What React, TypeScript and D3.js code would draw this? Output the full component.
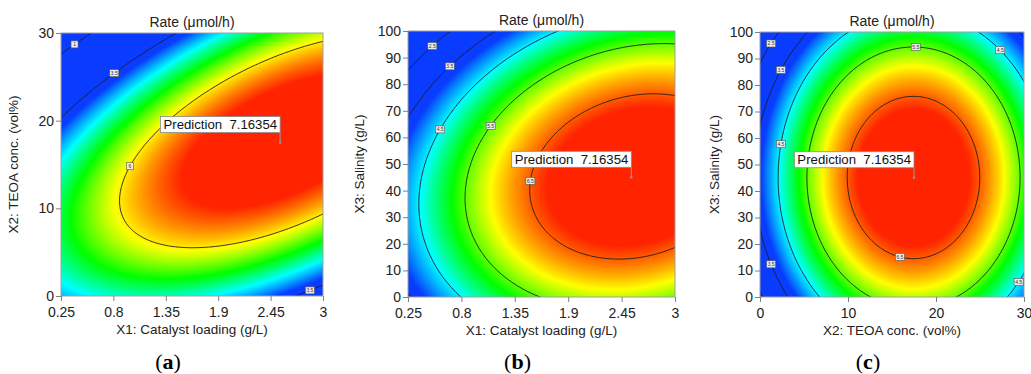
import React, { useEffect, useRef } from 'react';
import * as d3 from 'd3';

// factors of the design
const factorTitles = ['X1: Catalyst loading (g/L)', 'X2: TEOA conc. (vol%)', 'X3: Salinity (g/L)'];
const factorLow = [0.25, 0, 0];
const factorHigh = [3, 30, 100];
const factorTicks = [
  [0.25, 0.8, 1.35, 1.9, 2.45, 3],
  [0, 10, 20, 30],
  [0, 10, 20, 30, 40, 50, 60, 70, 80, 90, 100],
];

// quadratic model, coded units (-1..1): b0, A, B, C, AB, AC, BC, A2, B2, C2
const modelCoefs = [6.71, 1.188, -0.39, -0.617, 1.79, 0.427, 0, -1.02, -2.5, -1.68];

// flag point (the factor not on the axes is held at this value)
const predictionPoint = [2.55, 17.5, 45];
const predictionValue = '7.16354';

// panels (a), (b), (c)
const panelNames = ['a', 'b', 'c'];
const panelXFactor = [0, 0, 1];
const panelYFactor = [1, 2, 2];

const contourLevelsA = [1, 3.5, 6];
const contourLevelsB = [2.5, 3.5, 4.5, 5.5, 6.5];
const contourLevelsC = [2.5, 3.5, 4.5, 5.5, 6.5];

// rough spots of the little contour labels, data units
const labelSpotsA = [[0.34, 29.6], [0.8, 25.4], [0.95, 14.9], [2.85, 0.8]];
const labelSpotsB = [[0.49, 95], [0.67, 87.2], [0.56, 63.6], [1.08, 64.9], [1.5, 44]];
const labelSpotsC = [[1.1, 96], [2.16, 86], [2.24, 57.4], [17.6, 94.1], [27.3, 93.4], [16.1, 17.2], [1.3, 12.3], [29.1, 6.4]];

// colour ramp of the surface
const rampValues = [3.8, 4.55, 5.25, 5.95, 6.7];
const rampColors = ['#0a3cff', '#00ffff', '#00ff00', '#ffff00', '#ff2200'];

const sans = 'Arial, "Liberation Sans", Helvetica, sans-serif';

function rate(p: number[]) {
  const A = (p[0] - 1.625) / 1.375, B = (p[1] - 15) / 15, C = (p[2] - 50) / 50;
  const [b0, bA, bB, bC, bAB, bAC, bBC, bAA, bBB, bCC] = modelCoefs;
  return b0 + bA * A + bB * B + bC * C + bAB * A * B + bAC * A * C + bBC * B * C
    + bAA * A * A + bBB * B * B + bCC * C * C;
}

export default function App() {
  const ref = useRef<SVGSVGElement>(null);

  useEffect(() => {
    const svg = d3.select(ref.current);
    svg.selectAll('*').remove();

    // plot boxes in px
    const left = [61, 408, 760], right = [323, 675, 1024];
    const top = [33, 31, 32], bottom = [296, 297, 297];
    const yTitleX = [18, 364, 719];
    const levels = [contourLevelsA, contourLevelsB, contourLevelsC];
    const spots = [labelSpotsA, labelSpotsB, labelSpotsC];

    const color = d3.scaleLinear<string>().domain(rampValues).range(rampColors).clamp(true);
    const step = 0.03;
    const fillSteps = d3.range(rampValues[0], rampValues[rampValues.length - 1] + 0.001, step);

    panelNames.forEach((name, k) => {
      const xf = panelXFactor[k], yf = panelYFactor[k];
      const w = right[k] - left[k], h = bottom[k] - top[k];
      const x = d3.scaleLinear().domain([factorLow[xf], factorHigh[xf]]).range([0, w]);
      const y = d3.scaleLinear().domain([factorLow[yf], factorHigh[yf]]).range([h, 0]);

      const g = svg.append('g').attr('transform', `translate(${left[k]},${top[k]})`);

      // sample the model on a grid, a couple of cells wider than the plot
      const nx = 150, ny = 150, pad = 2;
      const sx = w / nx, sy = h / ny;
      const gx = nx + 2 * pad, gy = ny + 2 * pad;
      const values: number[] = new Array(gx * gy);
      for (let j = 0; j < gy; j++) {
        for (let i = 0; i < gx; i++) {
          const pt = predictionPoint.slice();
          pt[xf] = x.invert((i - pad + 0.5) * sx);
          pt[yf] = y.invert((j - pad + 0.5) * sy);
          values[j * gx + i] = rate(pt);
        }
      }
      const proj = d3.geoTransform({
        point(px: number, py: number) { this.stream.point((px - pad) * sx, (py - pad) * sy); },
      });
      const path = d3.geoPath(proj);

      const clipId = `clip-${name}`;
      g.append('clipPath').attr('id', clipId)
        .append('rect').attr('width', w).attr('height', h);
      const body = g.append('g').attr('clip-path', `url(#${clipId})`);

      body.append('rect').attr('width', w).attr('height', h).attr('fill', color(rampValues[0]));
      const bands = d3.contours().size([gx, gy]).thresholds(fillSteps)(values);
      body.selectAll('path.band').data(bands).enter().append('path')
        .attr('class', 'band')
        .attr('d', path as any)
        .attr('fill', d => color(d.value + step / 2))
        .attr('stroke', d => color(d.value + step / 2))
        .attr('stroke-width', 0.4);

      const lines = d3.contours().size([gx, gy]).thresholds(levels[k])(values);
      body.selectAll('path.line').data(lines).enter().append('path')
        .attr('class', 'line')
        .attr('d', path as any)
        .attr('fill', 'none')
        .attr('stroke', '#1c1c1c')
        .attr('stroke-width', 0.9);

      // frame
      g.append('rect').attr('width', w).attr('height', h)
        .attr('fill', 'none').attr('stroke', '#a0a0a0').attr('stroke-width', 1);

      // contour labels, snapped onto their line
      const fmt = d3.format('~g');
      spots[k].forEach(s => {
        const tx = x(s[0]), ty = y(s[1]);
        const pt = predictionPoint.slice();
        pt[xf] = s[0]; pt[yf] = s[1];
        const v = rate(pt);
        const li = d3.minIndex(levels[k], l => Math.abs(l - v));
        let best: [number, number] = [tx, ty], bd = Infinity;
        lines[li].coordinates.forEach(poly => poly.forEach(ring => ring.forEach(c => {
          const px = (c[0] - pad) * sx, py = (c[1] - pad) * sy;
          if (px < 3 || px > w - 3 || py < 3 || py > h - 3) return;
          const dd = (px - tx) ** 2 + (py - ty) ** 2;
          if (dd < bd) { bd = dd; best = [px, py]; }
        })));
        const txt = fmt(levels[k][li]);
        const bw = txt.length > 1 ? 9 : 7;
        const lg = g.append('g').attr('transform', `translate(${best[0]},${best[1]})`);
        lg.append('rect').attr('x', -bw / 2).attr('y', -3.5).attr('width', bw).attr('height', 7)
          .attr('fill', '#ececec').attr('stroke', '#555').attr('stroke-width', 0.6);
        lg.append('text').attr('text-anchor', 'middle').attr('y', 2)
          .attr('font-family', sans).attr('font-size', 5).attr('fill', '#333').text(txt);
      });

      // prediction flag
      const fx = x(predictionPoint[xf]), fy = y(predictionPoint[yf]);
      const flag = g.append('g');
      flag.append('line').attr('x1', fx).attr('x2', fx).attr('y1', fy - 10).attr('y2', fy)
        .attr('stroke', '#9a9a9a').attr('stroke-width', 1);
      flag.append('circle').attr('cx', fx).attr('cy', fy).attr('r', 1.2).attr('fill', '#9a9a9a');
      const ft = flag.append('text')
        .attr('font-family', sans).attr('font-size', 13.2).attr('fill', '#111')
        .style('white-space', 'pre')
        .text(`Prediction  ${predictionValue}`);
      const tw = (ft.node() as SVGTextElement).getComputedTextLength();
      const boxW = tw + 6, boxH = 16;
      flag.insert('rect', 'text')
        .attr('x', fx - boxW).attr('y', fy - 10 - boxH).attr('width', boxW).attr('height', boxH)
        .attr('fill', '#fff').attr('stroke', '#8a8a8a').attr('stroke-width', 0.8);
      ft.attr('x', fx - boxW + 3).attr('y', fy - 10 - 3.5);

      // axes
      const xAxis = g.append('g').attr('transform', `translate(0,${h})`)
        .call(d3.axisBottom(x).tickValues(factorTicks[xf]).tickSize(5).tickPadding(6).tickFormat(fmt as any));
      const yAxis = g.append('g')
        .call(d3.axisLeft(y).tickValues(factorTicks[yf]).tickSize(5).tickPadding(2).tickFormat(fmt as any));
      [xAxis, yAxis].forEach(a => {
        a.select('.domain').remove();
        a.selectAll('line').attr('stroke', '#808080');
        a.selectAll('text').attr('font-family', sans).attr('font-size', 14).attr('fill', '#222');
      });

      // titles
      g.append('text').attr('x', w / 2).attr('y', -6).attr('text-anchor', 'middle')
        .attr('font-family', sans).attr('font-size', 14).attr('fill', '#222').text('Rate (μmol/h)');
      g.append('text').attr('x', w / 2).attr('y', h + 38).attr('text-anchor', 'middle')
        .attr('font-family', sans).attr('font-size', 13.5).attr('fill', '#222').text(factorTitles[xf]);
      svg.append('text')
        .attr('transform', `translate(${yTitleX[k]},${top[k] + h / 2}) rotate(-90)`)
        .attr('text-anchor', 'middle')
        .attr('font-family', sans).attr('font-size', 13.5).attr('fill', '#222').text(factorTitles[yf]);

      // panel letter
      const letter = svg.append('text').attr('x', left[k] + w / 2 - 24).attr('y', 369)
        .attr('text-anchor', 'middle')
        .attr('font-family', '"Liberation Serif", "DejaVu Serif", serif').attr('font-size', 22).attr('fill', '#000');
      letter.append('tspan').text('(');
      letter.append('tspan').attr('font-weight', 'bold').text(name);
      letter.append('tspan').text(')');
    });
  }, []);

  return (
    <svg ref={ref} width={1031} height={374}
      style={{ position: 'absolute', left: 0, top: 0, background: '#fff' }} />
  );
}
